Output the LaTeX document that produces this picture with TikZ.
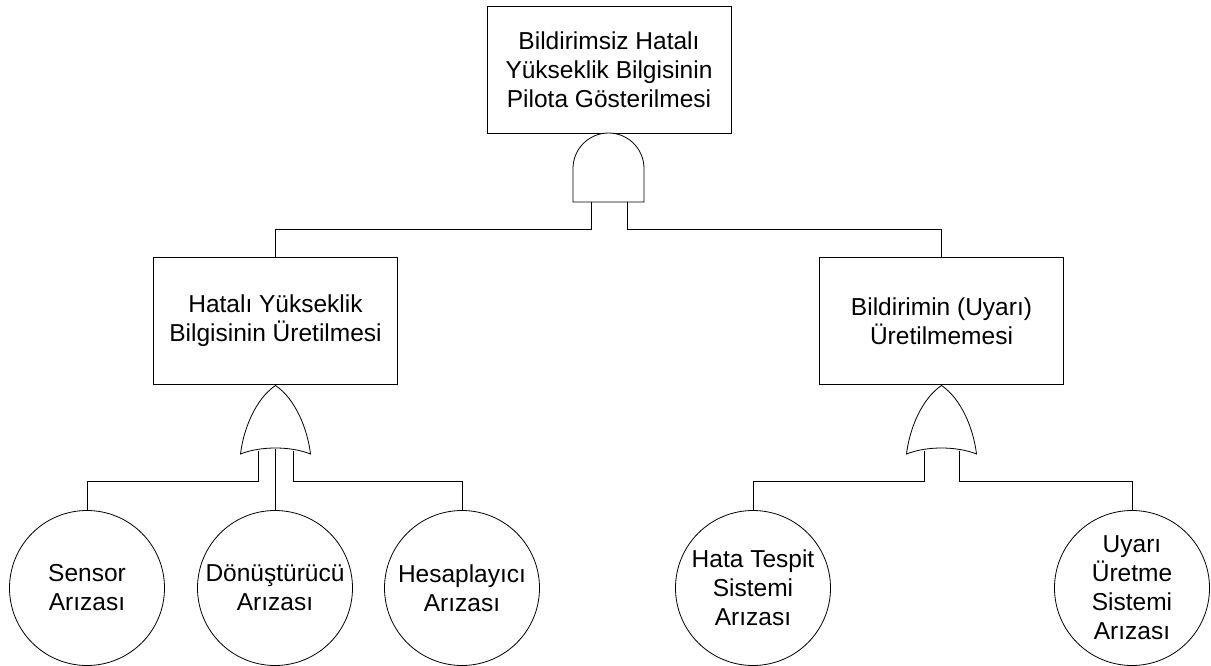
\documentclass[tikz,border=0pt]{standalone}
\usepackage{fontspec}
\setmainfont{Liberation Sans}
\newcommand\diafs{\fontsize{24.5}{29}\selectfont}
\begin{document}
\begin{tikzpicture}[x=1pt,y=-1pt,line width=0.8pt,
  evt/.style={draw,rectangle,minimum width=244pt,minimum height=127pt,align=center,inner sep=0pt,font=\diafs},
  basic/.style={draw,circle,minimum size=155pt,inner sep=0pt,align=center,font=\diafs},
  gate/.style={draw,fill=white,line width=0.8pt}]
\useasboundingbox (0,0) rectangle (1211,666);

% events
\node[evt] (top) at (609,69.5) {Bildirimsiz Hatalı\\Yükseklik Bilgisinin\\Pilota Gösterilmesi};
\node[evt] (hl) at (275.5,321) {Hatalı Yükseklik\\Bilgisinin Üretilmesi};
\node[evt] (hr) at (941.5,321) {Bildirimin (Uyarı)\\Üretilmemesi};

% basic events
\node[basic] (c1) at (87,588) {Sensor\\Arızası};
\node[basic] (c2) at (275,588) {Dönüştürücü\\Arızası};
\node[basic] (c3) at (462,588) {Hesaplayıcı\\Arızası};
\node[basic] (c4) at (753,588) {Hata Tespit\\Sistemi\\Arızası};
\node[basic] (c5) at (1132,588) {Uyarı\\Üretme\\Sistemi\\Arızası};

% AND gate
\draw[gate] (573,202) -- (573,168.5) arc[start angle=180,end angle=360,radius=35.5] -- (644,202) -- cycle;
\coordinate (and1) at (591,202);
\coordinate (and2) at (627,202);

% OR gate left
\begin{scope}[shift={(275.5,0)}]
\draw[gate] (-35,454) .. controls (-32,429) and (-20,399) .. (0,385.5)
  .. controls (20,399) and (32,429) .. (35,454)
  .. controls (15,446) and (-15,446) .. cycle;
\coordinate (gl1) at (-17.5,450.5);
\coordinate (gl2) at (17.5,450.5);
\coordinate (glc) at (0,449);
\end{scope}

% OR gate right
\begin{scope}[shift={(941.5,0)}]
\draw[gate] (-35,454) .. controls (-32,429) and (-20,399) .. (0,385.5)
  .. controls (20,399) and (32,429) .. (35,454)
  .. controls (15,446) and (-15,446) .. cycle;
\coordinate (gr1) at (-17.5,450.5);
\coordinate (gr2) at (17.5,450.5);
\end{scope}

% connectors
\draw (and1) -- ++(0,27) -| (hl.north);
\draw (and2) -- ++(0,27) -| (hr.north);
\draw (gl1) -- ++(0,30.5) -| (c1.north);
\draw (gl2) -- ++(0,30.5) -| (c3.north);
\draw (glc) -- (glc |- c2.north);
\draw (gr1) -- ++(0,30.5) -| (c4.north);
\draw (gr2) -- ++(0,30.5) -| (c5.north);
\end{tikzpicture}
\end{document}
